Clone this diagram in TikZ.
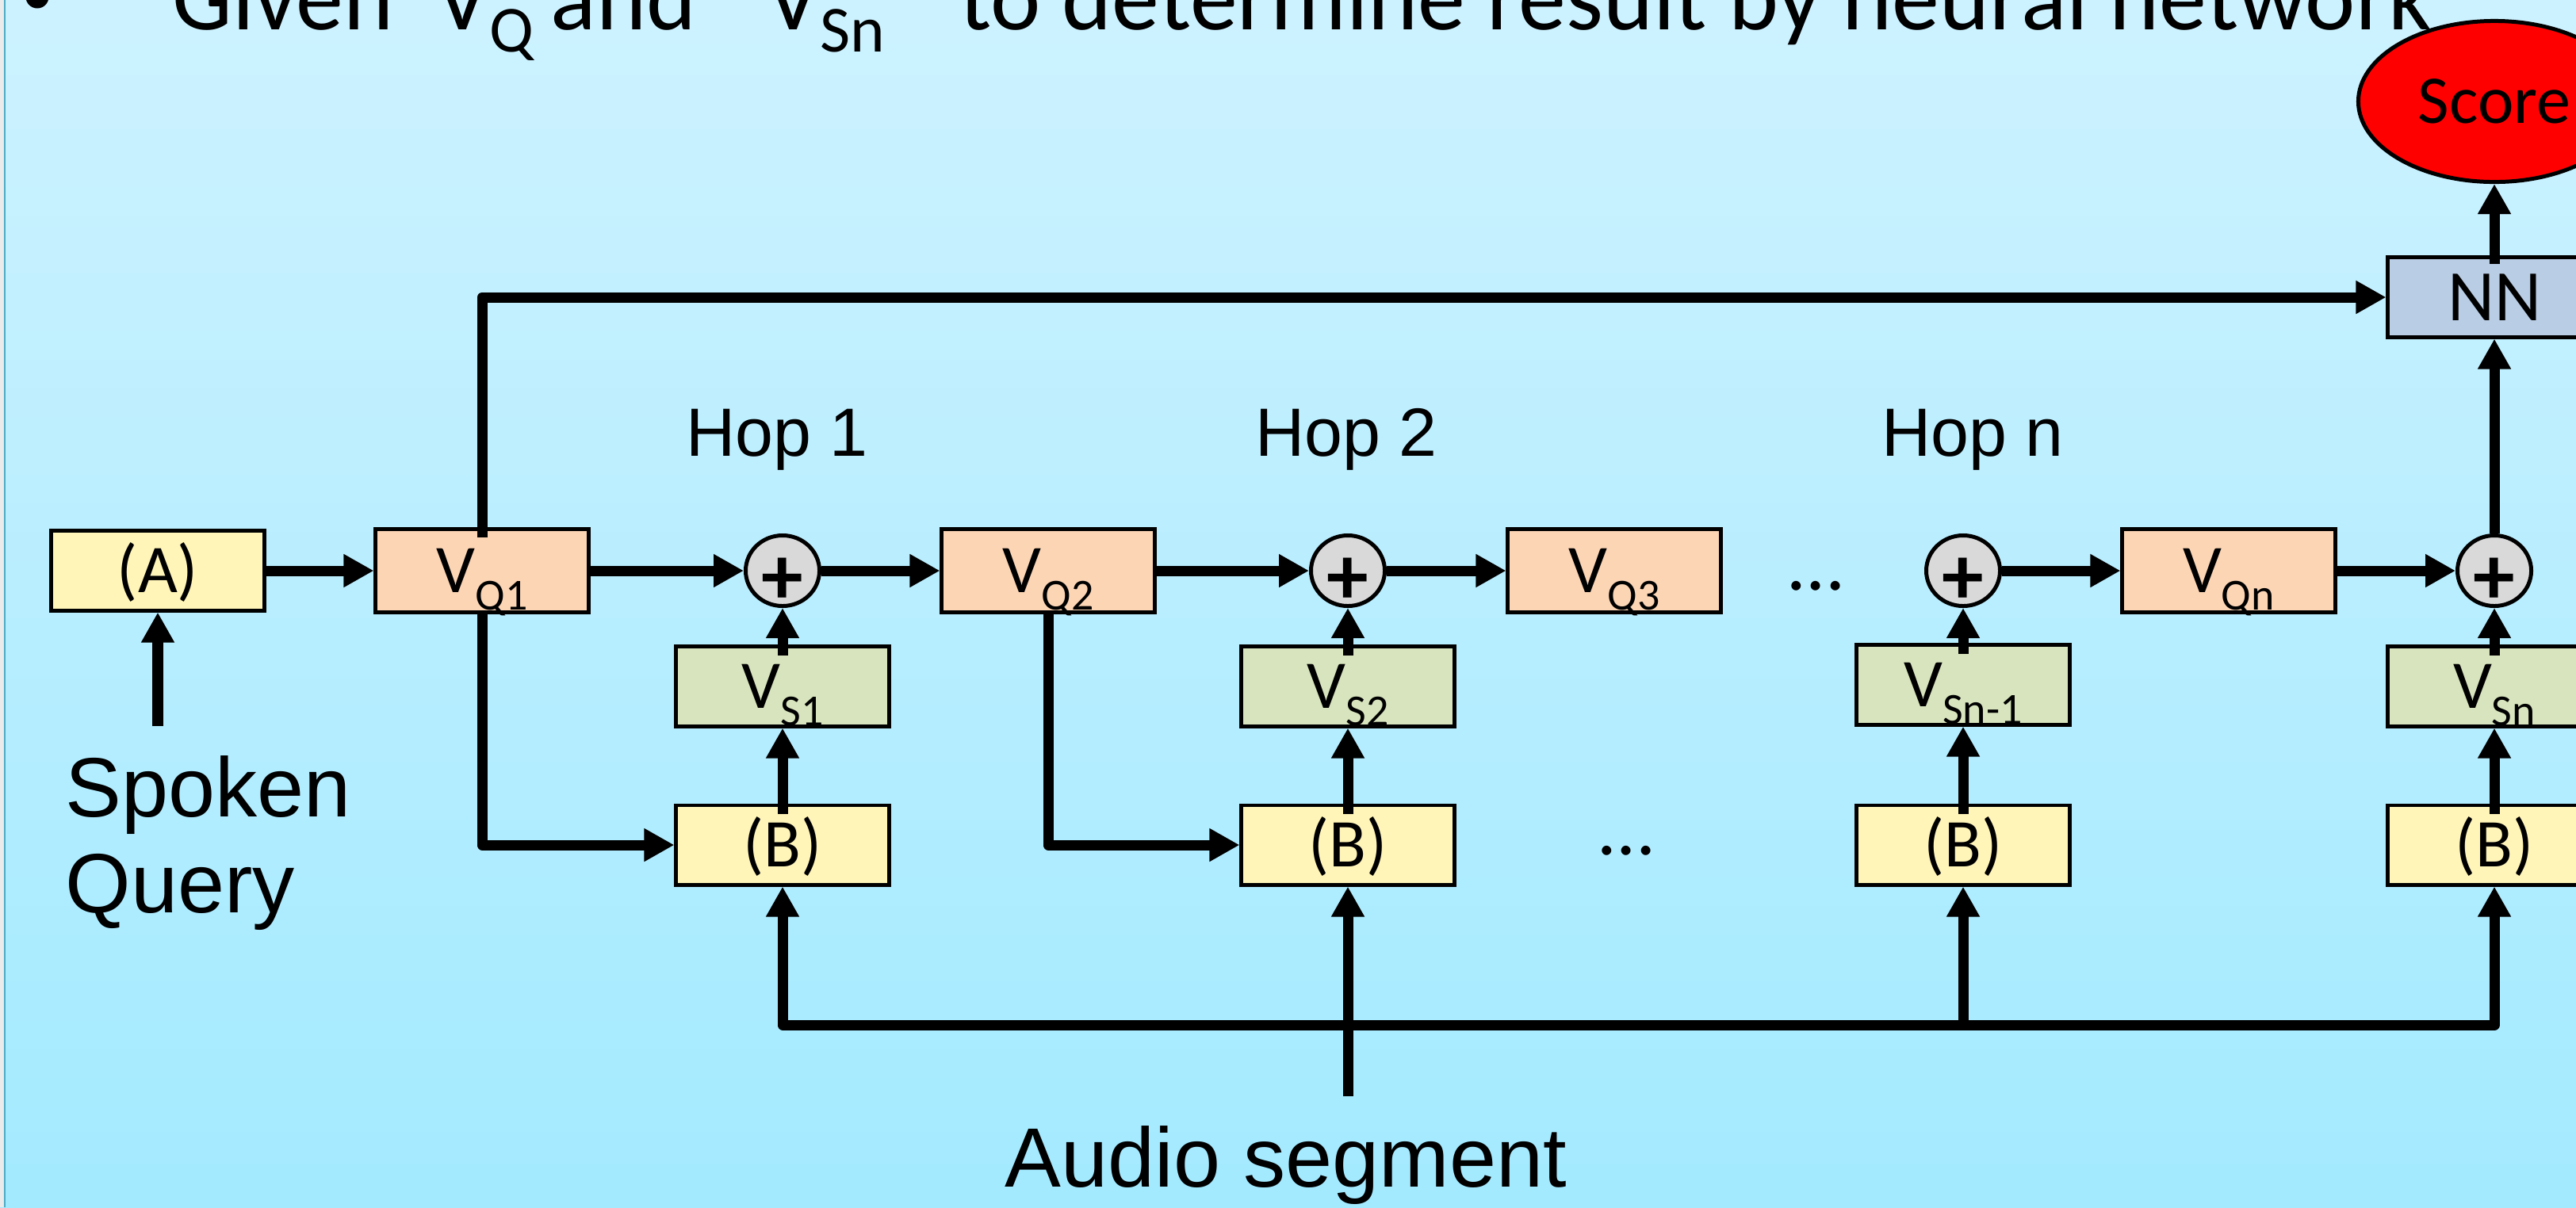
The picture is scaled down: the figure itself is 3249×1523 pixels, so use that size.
\documentclass[tikz,border=0pt]{standalone}
\usepackage{fontspec}
\setmainfont{Carlito}
\newfontfamily\arialf{Liberation Sans}
\usetikzlibrary{arrows.meta,shapes.geometric}
\newcommand\subx[3]{\raisebox{-#1}[0pt][0pt]{\fontsize{#2}{#2}\selectfont #3}}
\newcommand\bsub[1]{\subx{6.3pt}{15.9pt}{#1}}
\newcommand\tsub[1]{\subx{8pt}{23.6pt}{#1}}
\definecolor{bgtop}{RGB}{205,242,255}
\definecolor{bgbot}{RGB}{163,234,255}
\definecolor{yelbox}{RGB}{255,245,185}
\definecolor{peach}{RGB}{252,213,181}
\definecolor{greenbox}{RGB}{215,228,189}
\definecolor{nnblue}{RGB}{185,205,229}
\definecolor{plusgray}{RGB}{217,217,217}
\definecolor{edgeline}{RGB}{75,172,198}
\begin{document}
\begin{tikzpicture}[x=0.01cm,y=-0.01cm,
  box/.style={draw=black, line width=1.42pt, inner sep=0pt, minimum width=2.68cm, minimum height=1.0cm,
    font=\fontsize{24.5pt}{29pt}\selectfont, text height=15.8pt, text depth=0pt},
  qbox/.style={box, fill=peach, minimum height=1.05cm},
  sbox/.style={box, fill=greenbox},
  ybox/.style={box, fill=yelbox},
  plusnode/.style={ellipse, draw=black, line width=1.42pt, fill=plusgray, inner sep=0pt,
    minimum width=0.93cm, minimum height=0.89cm, font=\fontsize{30pt}{30pt}\selectfont\bfseries},
  arr/.style={line width=3.7pt, line join=round, -{Triangle[length=10.8pt,width=11.2pt]}},
  ln/.style={line width=3.7pt, line join=round},
  title/.style={anchor=base west, inner sep=0pt, font=\fontsize{34.1pt}{40pt}\selectfont},
  hop/.style={anchor=base, inner sep=0pt, font=\arialf\fontsize{24.5pt}{29pt}\selectfont},
  big/.style={inner sep=0pt, font=\arialf\fontsize{30.2pt}{36pt}\selectfont},
  dots/.style={anchor=base, inner sep=0pt, font=\fontsize{28pt}{32pt}\selectfont}
]
\useasboundingbox (0,0) rectangle (3249,1523);
\clip (0,0) rectangle (3249,1523);
% background
\shade[top color=bgtop, bottom color=bgbot] (0,0) rectangle (3249,1523);
\fill[black!8] (0,0) rectangle (5,1523);
\draw[edgeline, line width=0.6pt] (6,0) -- (6,1523);

% title line
\fill (47,-4) circle (14.5);
\node[title] (t1) at (217,37) {Given};
\node[title] (t2) at (549,37) {V\tsub{Q}};
\node[title] (t3) at (694,37) {and};
\node[title] (t4) at (966,37) {V\tsub{Sn}};
\node[title] (t5) at (1210,37) {to determine result by neural network};

% main row
\node[ybox] (a) at (199,720) {(A)};
\node[qbox] (vq1) at (608,720) {V\bsub{Q1}};
\node[plusnode] (p1) at (987,720) {\raisebox{-12pt}[0pt][0pt]{+}};
\node[qbox] (vq2) at (1322,720) {V\bsub{Q2}};
\node[plusnode] (p2) at (1700,720) {\raisebox{-12pt}[0pt][0pt]{+}};
\node[qbox] (vq3) at (2036,720) {V\bsub{Q3}};
\node[dots] (d1) at (2290,744) {…};
\node[plusnode] (p3) at (2476,720) {\raisebox{-12pt}[0pt][0pt]{+}};
\node[qbox] (vqn) at (2811,720) {V\bsub{Qn}};
\node[plusnode] (p4) at (3146,720) {\raisebox{-12pt}[0pt][0pt]{+}};

% V_S row
\node[sbox] (vs1) at (987,866) {V\bsub{S1}};
\node[sbox] (vs2) at (1700,866) {V\bsub{S2}};
\node[sbox] (vs3) at (2476,864) {V\bsub{Sn-1}};
\node[sbox] (vs4) at (3146,866) {V\bsub{Sn}};

% B row
\node[ybox] (b1) at (987,1066) {(B)};
\node[ybox] (b2) at (1700,1066) {(B)};
\node[ybox] (b3) at (2476,1066) {(B)};
\node[ybox] (b4) at (3146,1066) {(B)};
\node[dots] (d2) at (2051,1078) {…};

% NN and score
\node[box, fill=nnblue, font=\fontsize{26pt}{30pt}\selectfont, text height=16.7pt] (nn) at (3146,375) {NN};
\node[ellipse, draw=black, line width=1.42pt, fill=red, inner sep=0pt, minimum width=3.43cm, minimum height=2.03cm,
  font=\fontsize{24.5pt}{29pt}\selectfont, text height=15.8pt, text depth=0pt] (score) at (3146,128) {Score};

% labels
\node[hop] (h1) at (980,575) {Hop 1};
\node[hop] (h2) at (1698,575) {Hop 2};
\node[hop] (hn) at (2488,575) {Hop n};
\node[big, anchor=base west] (sp1) at (82,1030) {Spoken};
\node[big, anchor=base west] (sp2) at (82,1151) {Query};
\node[big, anchor=base] (aud) at (1622,1497) {Audio segment};

\coordinate (sq) at (199,916);
\coordinate (bus) at (0,1293);
\coordinate (au) at (1700,1383);

% connectors
\draw[arr] (sq) -- (a.south);
\draw[arr] (a.east) -- (vq1.west);
\draw[arr] (vq1.east) -- (p1.west);
\draw[arr] (p1.east) -- (vq2.west);
\draw[arr] (vq2.east) -- (p2.west);
\draw[arr] (p2.east) -- (vq3.west);
\draw[arr] (p3.east) -- (vqn.west);
\draw[arr] (vqn.east) -- (p4.west);

\draw[arr] ([yshift=-3.7pt]vs1.north) -- (p1.south);
\draw[arr] ([yshift=-3.7pt]vs2.north) -- (p2.south);
\draw[arr] ([yshift=-3.7pt]vs3.north) -- (p3.south);
\draw[arr] ([yshift=-3.7pt]vs4.north) -- (p4.south);

\draw[arr] ([yshift=-3.7pt]b1.north) -- (vs1.south);
\draw[arr] ([yshift=-3.7pt]b2.north) -- (vs2.south);
\draw[arr] ([yshift=-3.7pt]b3.north) -- (vs3.south);
\draw[arr] ([yshift=-3.7pt]b4.north) -- (vs4.south);

\draw[arr] (b2.south |- bus) -| (b1.south);
\draw[arr] (b2.south |- bus) -| (b4.south);
\draw[arr] (b3.south |- bus) -- (b3.south);
\draw[arr] (au) -- (b2.south);

\draw[arr] (vq1.south) |- (b1.west);
\draw[arr] (vq2.south) |- (b2.west);
\draw[arr] ([yshift=-3.7pt]vq1.north) |- (nn.west);
\draw[arr] (p4.north) -- (nn.south);
\draw[arr] ([yshift=-3pt]nn.north) -- (score.south);
\end{tikzpicture}
\end{document}
